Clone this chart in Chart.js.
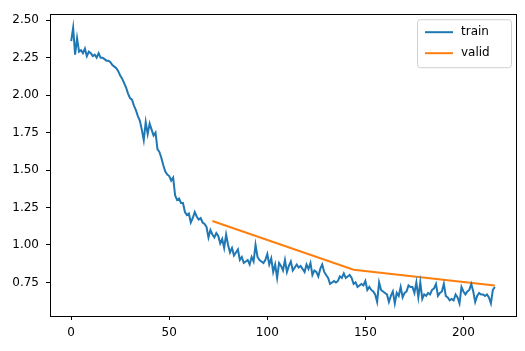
<!DOCTYPE html>
<html>
<head>
<meta charset="utf-8">
<script src="https://cdn.jsdelivr.net/npm/chart.js@4.4.1/dist/chart.umd.min.js"></script>
<style>
  html, body { margin: 0; padding: 0; background: #fff; }
</style>
</head>
<body>
<canvas id="loss-chart" width="525" height="351"></canvas>
<script>
// training loss, one value per step (0..216)
const trainLoss = [
    2.36, 2.45, 2.27, 2.38, 2.29, 2.30, 2.28, 2.31, 2.26, 2.29,
    2.28, 2.26, 2.27, 2.25, 2.28, 2.25, 2.25, 2.24, 2.23, 2.23,
    2.22, 2.20, 2.19, 2.18, 2.16, 2.13, 2.11, 2.08, 2.05, 2.01,
    1.98, 1.97, 1.93, 1.90, 1.86, 1.83, 1.77, 1.70, 1.82, 1.74,
    1.81, 1.77, 1.73, 1.75, 1.64, 1.62, 1.58, 1.53, 1.49, 1.47,
    1.46, 1.43, 1.45, 1.33, 1.30, 1.31, 1.28, 1.28, 1.22, 1.20,
    1.21, 1.15, 1.18, 1.22, 1.19, 1.17, 1.18, 1.15, 1.14, 1.12,
    1.05, 1.10, 1.07, 1.05, 1.08, 1.06, 1.01, 1.04, 0.98, 1.07,
    1.00, 0.95, 0.98, 0.93, 0.95, 0.97, 0.90, 0.92, 0.88, 0.89,
    0.90, 0.87, 0.92, 0.89, 1.00, 0.92, 0.90, 0.89, 0.88, 0.90,
    0.94, 0.87, 0.91, 0.82, 0.87, 0.78, 0.88, 0.86, 0.83, 0.90,
    0.82, 0.86, 0.89, 0.83, 0.85, 0.87, 0.85, 0.86, 0.84, 0.82,
    0.87, 0.84, 0.88, 0.80, 0.83, 0.82, 0.79, 0.84, 0.87, 0.82,
    0.80, 0.78, 0.74, 0.75, 0.76, 0.75, 0.76, 0.79, 0.78, 0.81,
    0.78, 0.79, 0.80, 0.78, 0.74, 0.75, 0.72, 0.73, 0.74, 0.73,
    0.76, 0.70, 0.72, 0.70, 0.69, 0.67, 0.62, 0.75, 0.70, 0.69,
    0.68, 0.67, 0.62, 0.66, 0.69, 0.61, 0.68, 0.66, 0.72, 0.65,
    0.68, 0.69, 0.73, 0.72, 0.72, 0.68, 0.75, 0.65, 0.75, 0.64,
    0.67, 0.66, 0.68, 0.67, 0.70, 0.71, 0.74, 0.66, 0.68, 0.69,
    0.74, 0.66, 0.65, 0.63, 0.64, 0.63, 0.67, 0.65, 0.61, 0.72,
    0.69, 0.67, 0.69, 0.70, 0.74, 0.69, 0.62, 0.66, 0.68, 0.67,
    0.67, 0.66, 0.67, 0.65, 0.61, 0.70, 0.72
];

// validation loss, evaluated every 72 steps
const validSteps = [72, 144, 216];
const validLoss = [1.16, 0.835, 0.73];

const xTicks = [0, 50, 100, 150, 200];
const yTicks = [0.75, 1.00, 1.25, 1.50, 1.75, 2.00, 2.25, 2.50];

const BLUE = '#1f77b4';
const ORANGE = '#ff7f0e';
const FONT = "'DejaVu Sans', sans-serif";

// matplotlib-like frame round the plot area
const framePlugin = {
    id: 'frame',
    afterDraw(chart) {
        const { ctx, chartArea: a } = chart;
        ctx.save();
        ctx.strokeStyle = '#000';
        ctx.lineWidth = 1;
        ctx.strokeRect(Math.round(a.left) + 0.5, Math.round(a.top) + 0.5,
            Math.round(a.right - a.left), Math.round(a.bottom - a.top));
        ctx.restore();
    }
};

// legend box in the upper right corner
const legendPlugin = {
    id: 'cornerLegend',
    afterDraw(chart) {
        const { ctx, chartArea: a } = chart;
        const w = 94, h = 48;
        const x0 = a.right - w - 5, y0 = a.top + 5;
        ctx.save();
        ctx.beginPath();
        ctx.roundRect(x0 + 0.5, y0 + 0.5, w, h, 3);
        ctx.fillStyle = 'rgba(255,255,255,0.8)';
        ctx.fill();
        ctx.strokeStyle = '#d0d0d0';
        ctx.lineWidth = 1;
        ctx.stroke();
        ctx.font = '12px ' + FONT;
        ctx.textBaseline = 'middle';
        chart.data.datasets.forEach((ds, i) => {
            const y = y0 + 13 + i * 21;
            ctx.strokeStyle = ds.borderColor;
            ctx.lineWidth = 2;
            ctx.beginPath();
            ctx.moveTo(x0 + 8, y);
            ctx.lineTo(x0 + 36, y);
            ctx.stroke();
            ctx.fillStyle = '#000';
            ctx.fillText(ds.label, x0 + 44, y);
        });
        ctx.restore();
    }
};

const ctx = document.getElementById('loss-chart').getContext('2d');
const chart = new Chart(ctx, {
    type: 'line',
    data: {
        datasets: [{
            label: 'train',
            data: trainLoss.map((v, i) => ({ x: i, y: v })),
            borderColor: BLUE,
            borderWidth: 2,
            pointRadius: 0,
            tension: 0
        }, {
            label: 'valid',
            data: validSteps.map((s, i) => ({ x: s, y: validLoss[i] })),
            borderColor: ORANGE,
            borderWidth: 2,
            pointRadius: 0,
            tension: 0
        }]
    },
    options: {
        responsive: false,
        animation: false,
        devicePixelRatio: 1,
        layout: { padding: { top: 10, right: 9, left: 0, bottom: 0 } },
        plugins: {
            legend: { display: false },
            tooltip: { enabled: false }
        },
        scales: {
            x: {
                type: 'linear',
                min: -10.8,
                max: 226.8,
                afterBuildTicks: axis => { axis.ticks = xTicks.map(v => ({ value: v })); },
                afterFit: axis => { axis.height = 35; },
                grid: { drawOnChartArea: false, tickLength: 4, tickColor: '#000', tickWidth: 1 },
                border: { display: true, color: '#000', width: 1 },
                ticks: {
                    color: '#000',
                    padding: 6,
                    maxRotation: 0,
                    font: { family: FONT, size: 12 },
                    callback: v => String(v)
                }
            },
            y: {
                type: 'linear',
                min: 0.526,
                max: 2.54,
                afterBuildTicks: axis => { axis.ticks = yTicks.map(v => ({ value: v })); },
                afterFit: axis => { axis.width = 50; },
                grid: { drawOnChartArea: false, tickLength: 4, tickColor: '#000', tickWidth: 1 },
                border: { display: true, color: '#000', width: 1 },
                ticks: {
                    color: '#000',
                    padding: 7,
                    font: { family: FONT, size: 12 },
                    callback: v => v.toFixed(2)
                }
            }
        }
    },
    plugins: [framePlugin, legendPlugin]
});
</script>
</body>
</html>
